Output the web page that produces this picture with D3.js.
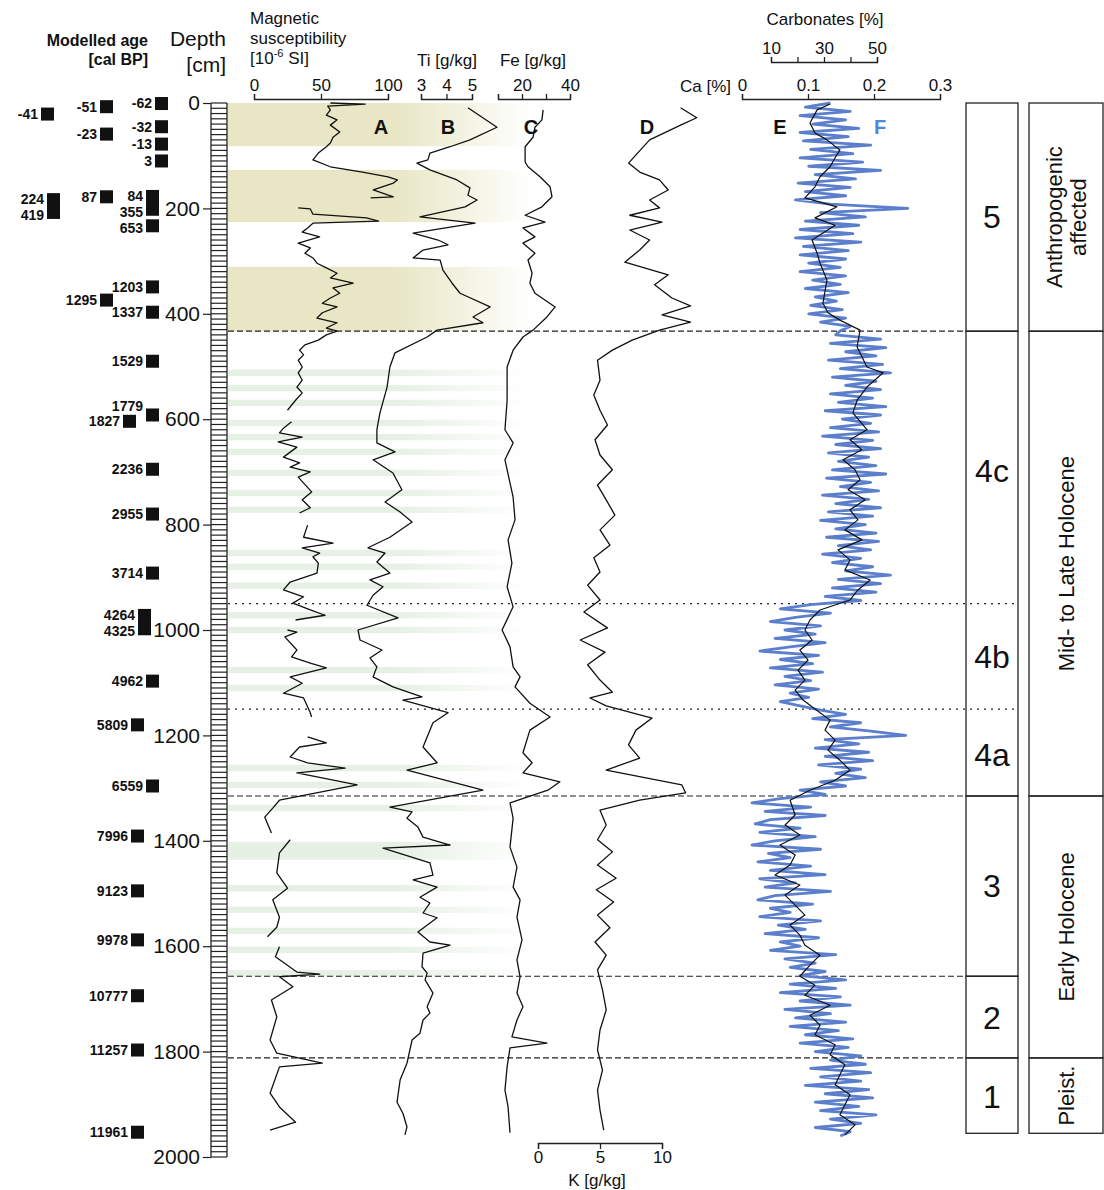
<!DOCTYPE html>
<html>
<head>
<meta charset="utf-8">
<script src="https://cdn.jsdelivr.net/npm/d3@7"></script>
<style>
  body { margin: 0; background: #fff; }
  svg text { font-family: "Liberation Sans", Arial, sans-serif; fill: #111; }
</style>
</head>
<body>
<script>
// ---- data ----
// magnetic susceptibility [1e-6 SI] : [depth cm, value], null = pen lift
const magSus = [[0,57],[2,83],[6,55],[13,57],[23,54],[32,62],[42,57],[55,64],[65,59],[76,57],[83,54],[95,48],[108,44],[121,57],[131,81],[140,100],[146,107],[152,104],[165,89],[178,104],[180,87],null,
  [199,33],[201,42],[211,44],[218,84],[224,93],[228,44],[237,40],[245,36],[254,49],[266,33],[275,42],[285,38],[294,44],[304,47],[313,54],[323,62],[332,57],[342,74],[351,59],[361,64],[370,57],[380,51],[387,62],[398,51],[408,47],[417,62],[427,54],[433,62],
  [440,54],[450,48],[459,38],[469,34],[478,37],[488,33],[501,36],[512,33],[526,36],[539,32],[550,36],[564,31],[583,25],null,
  [605,28],[617,22],[626,19],[634,36],[643,18],[653,32],[672,22],[683,34],[691,27],[700,42],[710,33],[738,43],[753,36],[768,42],[778,34],null,
  [801,40],[824,37],[835,59],[844,36],[854,49],[861,44],[873,48],[892,47],[909,27],[924,22],[937,37],[949,29],[962,42],[972,53],[981,31],null,
  [1000,25],[1004,32],[1013,23],[1038,32],[1051,28],[1063,42],[1072,54],[1089,27],[1101,36],[1120,22],[1129,37],[1157,42],[1165,43],null,
  [1203,40],[1214,54],[1222,34],[1241,27],[1252,40],[1262,68],[1271,32],[1294,77],[1304,57],[1323,19],[1338,14],[1355,8],[1385,13],null,
  [1398,27],[1423,19],[1461,17],[1490,25],[1512,14],[1545,19],[1564,17],[1582,10],null,
  [1601,19],[1620,16],[1649,32],[1653,49],[1658,19],[1677,29],[1702,13],[1734,17],[1778,12],[1803,17],[1822,51],[1829,19],[1879,12],[1905,19],[1934,31],[1949,12]];

// Ti [g/kg]
const ti = [[9,4.84],[46,5.98],[70,4.92],[83,4.14],[95,3.35],[108,3.27],[114,2.84],[127,3.35],[146,4.41],[161,4.92],[175,4.84],[184,5.2],[197,4.73],[216,2.96],[228,5.12],[247,2.69],[260,3.67],[269,4.06],[279,3.08],[294,2.69],[298,3.75],[317,3.86],[342,4.22],[361,4.53],[387,5.71],[406,5.04],[417,5.43],[431,3.63],[444,3.24],[474,1.98],[501,1.78],[539,1.67],[588,1.39],[620,1.27],[645,1.27],[662,1.98],[677,1.12],[702,1.9],[734,2.25],[757,1.59],[776,2.18],[795,2.65],[824,1.78],[844,0.92],[854,1.59],[871,1.27],[892,1.78],[905,1.0],[918,1.51],[934,1.12],[953,0.88],[977,2.1],[1000,0.53],[1019,0.61],[1038,1.47],[1053,1.0],[1070,1.27],[1089,1.12],[1108,1.9],[1127,3.04],[1133,2.29],[1157,4.06],[1176,3.47],[1222,3.08],[1252,3.63],[1266,2.45],[1304,5.43],[1336,1.78],[1345,2.65],[1357,2.45],[1374,2.88],[1393,3.08],[1408,4.14],[1414,1.51],[1442,3.35],[1465,3.47],[1474,2.69],[1488,3.63],[1507,2.96],[1518,3.35],[1537,3.08],[1546,3.63],[1573,2.88],[1592,3.35],[1598,4.14],[1613,3.08],[1639,3.04],[1651,3.24],[1664,3.16],[1689,3.47],[1715,3.24],[1727,3.35],[1740,3.08],[1765,2.96],[1778,2.65],[1822,2.45],[1854,2.18],[1896,2.06],[1917,2.29],[1943,2.45],[1958,2.37]];

// Fe [g/kg]
const fe = [[13,28.8],[32,28.3],[46,25.4],[65,24.6],[83,21.3],[112,21.3],[121,22.5],[140,27.5],[159,31.7],[178,32.5],[197,28.3],[213,21.3],[226,29.6],[237,20.4],[254,25.4],[266,20.4],[285,25.4],[298,22.5],[323,24.2],[342,23.3],[361,25.4],[387,33.8],[406,30.4],[431,24.6],[444,20.4],[469,16.3],[501,13.8],[564,13.8],[620,12.9],[645,16.3],[677,12.9],[748,16.3],[791,17.1],[829,14.2],[873,15.8],[918,13.8],[956,16.3],[1000,11.7],[1032,15.0],[1070,16.3],[1089,19.2],[1108,17.1],[1139,23.3],[1165,31.7],[1190,23.3],[1233,20.4],[1252,24.2],[1271,20.4],[1288,35.8],[1304,30.8],[1328,15.0],[1357,16.3],[1412,15.0],[1450,17.9],[1488,16.3],[1512,19.2],[1545,17.9],[1588,20.0],[1626,17.9],[1658,19.2],[1689,17.9],[1715,20.4],[1740,17.9],[1772,15.8],[1784,30.4],[1793,15.0],[1829,13.8],[1873,12.9],[1905,14.2],[1954,15.0]];

// K [g/kg]
const kVals = [[9,11.5],[28,12.8],[42,11.5],[70,9.0],[114,7.3],[131,8.2],[146,9.8],[165,10.5],[184,9.0],[199,9.8],[213,7.4],[226,10.0],[241,7.4],[260,9.0],[279,8.2],[302,7.0],[326,10.5],[345,9.4],[370,10.8],[385,12.3],[402,10.0],[416,12.3],[431,9.8],[450,7.6],[469,6.0],[488,4.8],[526,5.0],[554,4.5],[583,5.0],[611,5.6],[639,4.6],[668,5.0],[696,6.0],[725,4.8],[753,5.5],[782,6.2],[810,5.0],[839,5.8],[863,4.5],[890,5.0],[915,4.0],[943,5.0],[966,3.7],[996,5.6],[1019,3.4],[1042,5.4],[1066,4.0],[1095,5.0],[1118,6.0],[1129,4.2],[1144,5.5],[1167,9.2],[1190,7.9],[1218,7.3],[1243,8.2],[1266,5.5],[1294,11.6],[1309,11.9],[1323,8.2],[1342,5.0],[1370,5.5],[1398,4.8],[1421,6.0],[1446,4.8],[1471,6.3],[1493,4.7],[1516,6.1],[1541,4.8],[1565,5.8],[1592,4.6],[1617,5.5],[1645,4.8],[1683,5.2],[1721,5.5],[1759,5.0],[1797,4.8],[1835,5.2],[1873,4.8],[1911,5.0],[1949,5.3]];

// Carbonates [%] (black, E)
const carbonates = [[2,32.3],[13,27.4],[38,24.7],[57,26.6],[70,31.1],[89,36.0],[104,34.2],[121,32.3],[140,28.5],[159,26.6],[180,22.8],[197,34.9],[218,26.6],[232,34.2],[260,25.5],[285,27.4],[304,28.5],[336,31.1],[380,29.6],[398,31.5],[412,36.0],[431,43.6],[463,42.5],[501,46.2],[512,52.3],[539,46.2],[564,42.5],[588,40.9],[620,46.2],[639,39.8],[658,44.3],[677,37.2],[696,41.7],[715,43.6],[734,39.1],[753,45.5],[772,39.8],[791,42.8],[810,37.9],[829,44.3],[848,35.3],[867,39.8],[886,37.9],[905,47.4],[924,42.8],[943,39.8],[962,28.5],[981,24.7],[1000,22.8],[1019,25.5],[1038,20.9],[1057,24.0],[1076,20.2],[1095,22.8],[1114,19.1],[1133,22.1],[1150,26.6],[1171,32.3],[1190,30.4],[1209,34.2],[1228,31.5],[1247,36.0],[1266,39.8],[1285,34.2],[1304,24.7],[1323,17.2],[1351,19.1],[1370,15.3],[1389,20.9],[1408,13.4],[1427,19.1],[1446,17.2],[1465,11.5],[1484,20.9],[1503,15.3],[1522,19.1],[1541,22.8],[1560,17.2],[1579,20.9],[1598,22.8],[1617,28.5],[1636,24.7],[1657,20.9],[1674,26.6],[1693,22.8],[1712,32.3],[1731,24.7],[1750,28.5],[1768,26.6],[1787,34.2],[1806,32.3],[1825,37.9],[1844,36.0],[1863,34.2],[1882,39.8],[1901,37.9],[1920,36.0],[1939,41.7],[1958,37.9]];

// Ca [%] (blue, F), XRF scan every 8 cm from 0 cm
const caStep = 8;
const ca = [
  0.134,0.096,0.164,0.088,0.157,0.107,0.177,0.088, 0.161,0.093,0.195,0.104,0.168,0.088,0.183,0.101,
  0.210,0.111,0.172,0.085,0.164,0.096,0.157,0.081, 0.134,0.251,0.119,0.187,0.096,0.177,0.088,0.168,
  0.081,0.180,0.093,0.161,0.088,0.157,0.101,0.149, 0.088,0.157,0.107,0.149,0.096,0.161,0.111,0.143,
  0.104,0.152,0.101,0.157,0.119,0.164,0.149,
  0.142,0.210,0.134,0.218,0.157,0.203,0.131,0.213, 0.149,0.225,0.137,0.203,0.157,0.210,0.134,0.198,
  0.146,0.218,0.126,0.210,0.152,0.195,0.134,0.207, 0.122,0.198,0.142,0.210,0.131,0.192,0.146,0.203,
  0.137,0.218,0.128,0.195,0.149,0.207,0.122,0.192, 0.142,0.210,0.131,0.198,0.119,0.187,0.142,0.203,
  0.128,0.207,0.146,0.195,0.122,0.180,0.137,0.198, 0.157,0.225,0.146,0.210,0.137,0.203,0.126,0.180,
  0.104,0.058,0.134,0.081,0.043,0.119,0.065,0.111, 0.050,0.126,0.073,0.027,0.116,0.058,0.107,0.043,
  0.122,0.065,0.104,0.050,0.116,0.073,0.101,0.058, 0.088,
  0.119,0.157,0.107,0.180,0.134,0.195,0.248,0.126, 0.177,0.111,0.192,0.126,0.198,0.116,0.180,0.142,
  0.187,0.119,0.157,0.088,0.126,
  0.058,0.015,0.104,0.035,0.126,0.043,0.020,0.088, 0.027,0.111,0.050,0.015,0.119,0.040,0.073,0.024,
  0.104,0.043,0.126,0.027,0.081,0.035,0.134,0.050, 0.024,0.107,0.043,0.073,0.027,0.119,0.055,0.096,
  0.035,0.116,0.058,0.088,0.043,0.142,0.065,0.111, 0.073,0.126,0.088,
  0.157,0.073,0.142,0.058,0.149,0.088,0.164,0.065, 0.134,0.081,0.157,0.073,0.146,0.096,0.168,0.088,
  0.161,0.111,0.180,
  0.134,0.187,0.104,0.195,0.119,0.180,0.096,0.192, 0.126,0.198,0.111,0.177,0.119,0.203,0.134,0.180,
  0.111,0.164,0.149];

// age model markers
const ageLabels = [["-62"],["-51"],["-41"],["-32"],["-23"],["-13"],["3"],["87"],["84","355"],["224","419"],["653"],["1203"],["1295"],["1337"],["1529"],["1779"],["1827"],["2236"],["2955"],["3714"],["4264","4325"],["4962"],["5809"],["6559"],["7996"],["9123"],["9978"],["10777"],["11257"],["11961"]];
const ageDepthTop    = [1,7,21,45,59,78,110,178,165,171,233,349,374,397,490,592,604,695,780,892,960,1097,1180,1296,1391,1495,1588,1694,1797,1953];
const ageDepthBottom = [1,7,21,45,59,78,110,178,214,220,233,349,374,397,490,592,604,695,780,892,1010,1097,1180,1296,1391,1495,1588,1694,1797,1953];

// shaded intervals and unit boundaries [cm]
const anthroBands = [[0,82],[127,226],[311,433]];
const greenBands = [[506,518],[535,547],[563,575],[601,613],[628,640],[656,668],[696,708],[734,746],[766,778],[848,860],[874,886],[910,922],[966,978],[994,1006],[1070,1082],[1104,1116],[1256,1268],[1288,1300],[1332,1344],[1402,1436],[1484,1496],[1525,1537],[1565,1577],[1601,1613],[1645,1657]];
const dashedBounds = [433, 1315, 1657, 1812];
const dottedBounds = [950, 1150];
const unitBoxes = [[0,433],[433,1315],[1315,1657],[1657,1812],[1812,1955]];
const unitNames = ["5","4c","4b","4a","3","2","1"];
const unitLabelDepth = [216, 697, 1051, 1237, 1486, 1736, 1886];
const periodBoxes = [[0,433],[433,1315],[1315,1812],[1812,1955]];
const periodNames = [["Anthropogenic","affected"],["Mid- to Late Holocene"],["Early Holocene"],["Pleist."]];

// ---- layout ----
const W = 1104, H = 1190;
const svg = d3.select('body').append('svg').attr('width', W).attr('height', H);

const y = d3.scaleLinear().domain([0, 2000]).range([103, 1157]);
const xMag = d3.scaleLinear().domain([0, 100]).range([254, 388]);
const xTi = d3.scaleLinear().domain([3, 5]).range([421, 472]);
const xFe = d3.scaleLinear().domain([10, 40]).range([498, 570]);
const xK = d3.scaleLinear().domain([0, 10]).range([538, 662]);
const xCa = d3.scaleLinear().domain([0, 0.3]).range([742, 940]);
const xCarb = d3.scaleLinear().domain([10, 50]).range([771, 877]);

// marker column (left edge of square, px) for each age
const ageX = [155,100,41,155,100,155,155,100,146,47,146,146,100,146,146,146,123,146,146,146,138,146,131,146,131,131,131,131,131,131];
const ageLabelDy = {10: 2, 15: -9};

// gradients for the shaded bands
const defs = svg.append('defs');
function fadeGrad(id, col) {
  const g = defs.append('linearGradient').attr('id', id)
    .attr('gradientUnits', 'userSpaceOnUse').attr('x1', 228).attr('x2', 530).attr('y1', 0).attr('y2', 0);
  g.append('stop').attr('offset', 0).attr('stop-color', col);
  g.append('stop').attr('offset', 0.55).attr('stop-color', col);
  g.append('stop').attr('offset', 1).attr('stop-color', '#fff');
}
fadeGrad('gYel', '#e8e6c4');
fadeGrad('gGrn', '#e6f0e4');

svg.append('g').selectAll('rect').data(anthroBands).join('rect')
  .attr('x', 228).attr('width', 302)
  .attr('y', d => y(d[0])).attr('height', d => y(d[1]) - y(d[0]))
  .attr('fill', 'url(#gYel)');
svg.append('g').selectAll('rect').data(greenBands).join('rect')
  .attr('x', 228).attr('width', 302)
  .attr('y', d => y(d[0])).attr('height', d => y(d[1]) - y(d[0]))
  .attr('fill', 'url(#gGrn)');

// depth ruler
const ruler = svg.append('g');
ruler.selectAll('line.minor').data(d3.range(0, 2001, 10)).join('line')
  .attr('x1', 211).attr('x2', 227).attr('y1', d => y(d)).attr('y2', d => y(d))
  .attr('stroke', '#222').attr('stroke-width', 1.2);
ruler.append('line').attr('x1', 211).attr('x2', 211).attr('y1', y(0)).attr('y2', y(2000)).attr('stroke', '#222').attr('stroke-width', 1.3);
ruler.append('line').attr('x1', 227).attr('x2', 227).attr('y1', y(0)).attr('y2', y(2000)).attr('stroke', '#222').attr('stroke-width', 1.3);
const depthAxis = svg.append('g').attr('transform', 'translate(211,0)')
  .call(d3.axisLeft(y).tickValues(d3.range(0, 2001, 200)).tickFormat(d3.format('d')).tickSize(8).tickPadding(3).tickSizeOuter(0));
depthAxis.select('.domain').remove();
depthAxis.selectAll('text').style('font-size', '21px');
depthAxis.selectAll('line').attr('stroke', '#222').attr('stroke-width', 1.2);

// boundary lines
svg.append('g').selectAll('line').data(dashedBounds).join('line')
  .attr('x1', 228).attr('x2', 966).attr('y1', d => y(d)).attr('y2', d => y(d))
  .attr('stroke', '#222').attr('stroke-width', 1.2).attr('stroke-dasharray', '6,3');
svg.append('g').selectAll('line').data(dottedBounds).join('line')
  .attr('x1', 228).attr('x2', 1017).attr('y1', d => y(d)).attr('y2', d => y(d))
  .attr('stroke', '#222').attr('stroke-width', 1.2).attr('stroke-dasharray', '2,5');

// curves
function drawCurve(data, xs, color, width) {
  svg.append('path').datum(data)
    .attr('d', d3.line().defined(d => d != null).x(d => xs(d[1])).y(d => y(d[0])))
    .attr('fill', 'none').attr('stroke', color).attr('stroke-width', width)
    .attr('stroke-linejoin', 'round');
}
drawCurve(magSus, xMag, '#111', 1.3);
drawCurve(ti, xTi, '#111', 1.3);
drawCurve(fe, xFe, '#111', 1.3);
drawCurve(kVals, xK, '#111', 1.3);
drawCurve(ca.map((v, i) => [i * caStep, v]), xCa, '#5b7fcc', 2.8);
drawCurve(carbonates, xCarb, '#111', 1.2);

// top axes
function topAxis(scale, yPos, ticks, fmt) {
  const g = svg.append('g').attr('transform', `translate(0,${yPos})`)
    .call(d3.axisTop(scale).tickValues(ticks).tickFormat(fmt).tickSize(5).tickPadding(3));
  g.selectAll('text').style('font-size', '17px');
  g.selectAll('line,path').attr('stroke', '#222').attr('stroke-width', 1.3);
  return g;
}
topAxis(xMag, 99, [0, 50, 100], d3.format('d'));
topAxis(xTi, 99, [3, 4, 5], d3.format('d'));
topAxis(xFe, 99, [10, 20, 30, 40], d => (d === 20 || d === 40) ? d : '');
topAxis(xCa, 99, [0, 0.1, 0.2, 0.3], d => d === 0 ? '0' : d3.format('.1f')(d));
topAxis(xCarb, 62, [10, 20, 30, 40, 50], d => (d % 20 === 10) ? d : '');

// K axis at the bottom
const kAxis = svg.append('g').attr('transform', 'translate(0,1143)')
  .call(d3.axisBottom(xK).tickValues([0, 5, 10]).tickSize(6).tickPadding(2));
kAxis.selectAll('text').style('font-size', '17px');
kAxis.selectAll('line,path').attr('stroke', '#222').attr('stroke-width', 1.3);

// titles
const t = svg.append('g');
t.append('text').attr('x', 148).attr('y', 46).attr('text-anchor', 'end').style('font-size', '16px').style('font-weight', 'bold').text('Modelled age');
t.append('text').attr('x', 148).attr('y', 65).attr('text-anchor', 'end').style('font-size', '16px').style('font-weight', 'bold').text('[cal BP]');
t.append('text').attr('x', 226).attr('y', 46).attr('text-anchor', 'end').style('font-size', '21px').text('Depth');
t.append('text').attr('x', 226).attr('y', 72).attr('text-anchor', 'end').style('font-size', '21px').text('[cm]');
t.append('text').attr('x', 250).attr('y', 24).style('font-size', '17px').text('Magnetic');
t.append('text').attr('x', 250).attr('y', 44).style('font-size', '17px').text('susceptibility');
const ms = t.append('text').attr('x', 250).attr('y', 64).style('font-size', '17px');
ms.append('tspan').text('[10');
ms.append('tspan').attr('dy', -7).style('font-size', '11px').text('-6');
ms.append('tspan').attr('dy', 7).text(' SI]');
t.append('text').attr('x', 447).attr('y', 66).attr('text-anchor', 'middle').style('font-size', '17px').text('Ti [g/kg]');
t.append('text').attr('x', 533).attr('y', 66).attr('text-anchor', 'middle').style('font-size', '17px').text('Fe [g/kg]');
t.append('text').attr('x', 731).attr('y', 92).attr('text-anchor', 'end').style('font-size', '17px').text('Ca [%]');
t.append('text').attr('x', 825).attr('y', 25).attr('text-anchor', 'middle').style('font-size', '17px').text('Carbonates [%]');
t.append('text').attr('x', 597).attr('y', 1186).attr('text-anchor', 'middle').style('font-size', '17px').text('K [g/kg]');

// curve letters
const letters = [['A', 381, '#111'], ['B', 448, '#111'], ['C', 531, '#111'], ['D', 647, '#111'], ['E', 780, '#111'], ['F', 880, '#4f86d6']];
t.selectAll('text.letter').data(letters).join('text').attr('class', 'letter')
  .attr('x', d => d[1]).attr('y', 134).attr('text-anchor', 'middle')
  .style('font-size', '20px').style('font-weight', 'bold').style('fill', d => d[2]).text(d => d[0]);

// age markers
const ages = svg.append('g');
ageLabels.forEach((labs, i) => {
  const yt = y(ageDepthTop[i]), yb = y(ageDepthBottom[i]);
  const single = labs.length === 1;
  const top = single ? yt - 6.5 : yt, h = single ? 13 : yb - yt;
  ages.append('rect').attr('x', ageX[i]).attr('y', top).attr('width', 13).attr('height', h).attr('fill', '#111');
  labs.forEach((lab, j) => {
    const ly = single ? (yt + (ageLabelDy[i] || 0)) : (j === 0 ? top + 6 : top + h - 4);
    ages.append('text').attr('x', ageX[i] - 3).attr('y', ly).attr('dy', '0.35em')
      .attr('text-anchor', 'end').style('font-size', '14px').style('font-weight', 'bold').text(lab);
  });
});

// unit boxes
const ub = svg.append('g');
ub.selectAll('rect').data(unitBoxes).join('rect')
  .attr('x', 966).attr('width', 52).attr('y', d => y(d[0])).attr('height', d => y(d[1]) - y(d[0]))
  .attr('fill', 'none').attr('stroke', '#222').attr('stroke-width', 1.3);
ub.selectAll('text').data(unitNames).join('text')
  .attr('x', 992).attr('y', (d, i) => y(unitLabelDepth[i])).attr('dy', '0.35em').attr('text-anchor', 'middle')
  .style('font-size', '32px').text(d => d);

const pb = svg.append('g');
pb.selectAll('rect').data(periodBoxes).join('rect')
  .attr('x', 1029).attr('width', 74).attr('y', d => y(d[0])).attr('height', d => y(d[1]) - y(d[0]))
  .attr('fill', 'none').attr('stroke', '#222').attr('stroke-width', 1.3);
periodNames.forEach((lines, i) => {
  const cy = (y(periodBoxes[i][0]) + y(periodBoxes[i][1])) / 2;
  const txt = pb.append('text').attr('transform', `translate(1066,${cy}) rotate(-90)`)
    .attr('text-anchor', 'middle').style('font-size', '22px');
  lines.forEach((ln, j) => {
    txt.append('tspan').attr('x', 0).attr('y', (j - (lines.length - 1) / 2) * 24).attr('dy', '0.35em').text(ln);
  });
});
</script>
</body>
</html>
